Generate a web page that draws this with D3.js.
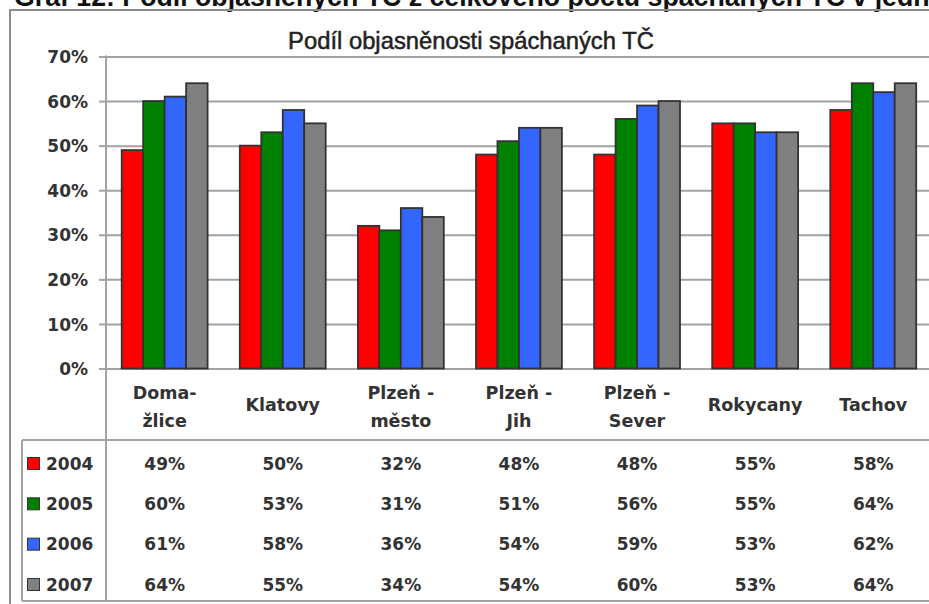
<!DOCTYPE html>
<html>
<head>
<meta charset="utf-8">
<script src="https://cdn.jsdelivr.net/npm/d3@7"></script>
<style>
  body { margin: 0; background: #fff; }
  svg { display: block; overflow: hidden; }
</style>
</head>
<body>
<svg id="chart" width="929" height="604"></svg>
<script>
// Data
const categories = ["Domažlice", "Klatovy", "Plzeň - město", "Plzeň - Jih", "Plzeň - Sever", "Rokycany", "Tachov"];
const categoryLines = [["Doma-", "žlice"], ["Klatovy"], ["Plzeň -", "město"], ["Plzeň -", "Jih"], ["Plzeň -", "Sever"], ["Rokycany"], ["Tachov"]];
const years = ["2004", "2005", "2006", "2007"];
const values2004 = [49, 50, 32, 48, 48, 55, 58];
const values2005 = [60, 53, 31, 51, 56, 55, 64];
const values2006 = [61, 58, 36, 54, 59, 53, 62];
const values2007 = [64, 55, 34, 54, 60, 53, 64];
const yTicks = [0, 10, 20, 30, 40, 50, 60, 70];
const yearColors = ["#ff0000", "#008000", "#3366ff", "#808080"];
const heading = "Graf 12: Podíl objasněných TČ z celkového počtu spáchaných TČ v jednotlivých okresech";
const chartTitle = "Podíl objasněnosti spáchaných TČ";

const series = [values2004, values2005, values2006, values2007];

const svg = d3.select("#chart");
const W = 929, H = 604;
const labelFont = "'DejaVu Sans', Verdana, sans-serif";
const textColor = "#333333";
const lineColor = "#a3a3a3";

// Scales
const axisX = 106;
const y = d3.scaleLinear().domain([0, 70]).range([368.5, 56.5]);
const x = d3.scaleBand().domain(categories).range([105.6, 932.3])
  .paddingInner(1.5 / 5.5).paddingOuter(0.75 / 5.5);
const xYear = d3.scaleBand().domain(years).range([0, x.bandwidth()]).padding(0);

// Page heading, partly cut off by the top edge
const head = svg.append("text")
  .attr("x", 14).attr("y", 6)
  .attr("font-family", "'Liberation Sans', Arial, sans-serif")
  .attr("font-weight", "bold")
  .attr("font-size", 20)
  .attr("fill", "#111")
  .text(heading.slice(0, 68));
{
  const w = head.node().getComputedTextLength();
  head.attr("font-size", 20 * (930 - 14) / w).text(heading);
}

// Chart frame
svg.append("rect")
  .attr("x", 10).attr("y", 10)
  .attr("width", W + 20).attr("height", H + 20)
  .attr("fill", "none").attr("stroke", "#8c8c8c").attr("stroke-width", 2);

// Chart title
const title = svg.append("text")
  .attr("x", 471).attr("y", 49)
  .attr("text-anchor", "middle")
  .attr("font-family", "'Liberation Sans', Arial, sans-serif")
  .attr("font-size", 20)
  .attr("fill", "#222")
  .attr("stroke", "#222").attr("stroke-width", 0.5)
  .text(chartTitle);
{
  const w = title.node().getComputedTextLength();
  title.attr("font-size", 20 * 366 / w);
}

// Gridlines
svg.append("g")
  .attr("transform", `translate(${axisX},0)`)
  .call(d3.axisLeft(y).tickValues(yTicks).tickSize(-(W - axisX + 10)).tickFormat(""))
  .call(g => g.select(".domain").remove())
  .call(g => g.selectAll(".tick line").attr("stroke", lineColor).attr("stroke-width", 2));

// Value axis with ticks and percent labels
svg.append("g")
  .attr("transform", `translate(${axisX},0)`)
  .call(d3.axisLeft(y).tickValues(yTicks).tickSize(7).tickPadding(11).tickFormat(d => d + "%"))
  .call(g => g.select(".domain").remove())
  .call(g => g.selectAll(".tick line").attr("stroke", lineColor).attr("stroke-width", 2))
  .call(g => g.selectAll(".tick text")
    .attr("font-family", labelFont).attr("font-weight", "bold")
    .attr("font-size", 17).attr("fill", textColor).attr("dy", "0.36em"));

// Vertical axis line running down through the data table
svg.append("line")
  .attr("x1", axisX).attr("x2", axisX)
  .attr("y1", y(70) - 1).attr("y2", 601)
  .attr("stroke", lineColor).attr("stroke-width", 2);

// Bars
const groups = svg.append("g").selectAll("g")
  .data(categories)
  .join("g")
  .attr("transform", d => `translate(${x(d)},0)`);

groups.selectAll("rect")
  .data((d, i) => years.map((yr, j) => ({ year: yr, value: series[j][i], color: yearColors[j] })))
  .join("rect")
  .attr("x", d => xYear(d.year))
  .attr("y", d => y(d.value))
  .attr("width", xYear.bandwidth())
  .attr("height", d => y(0) - y(d.value))
  .attr("fill", d => d.color)
  .attr("stroke", "#333")
  .attr("stroke-width", 1.8);

// Category labels
const catLabels = svg.append("g").selectAll("text")
  .data(categories)
  .join("text")
  .attr("text-anchor", "middle")
  .attr("font-family", labelFont).attr("font-weight", "bold")
  .attr("font-size", 17.5).attr("fill", textColor);

catLabels.each(function (d, i) {
  const lines = categoryLines[i];
  const cx = x(d) + x.bandwidth() / 2;
  const centers = lines.length === 2 ? [392, 420] : [404];
  d3.select(this).selectAll("tspan")
    .data(lines)
    .join("tspan")
    .attr("x", cx)
    .attr("y", (t, k) => centers[k] + 6.5)
    .text(t => t);
});

// Data table frame
const tableTop = 440, tableBottom = 601, tableLeft = 22;
svg.append("line").attr("x1", tableLeft).attr("x2", W + 10).attr("y1", tableTop).attr("y2", tableTop)
  .attr("stroke", lineColor).attr("stroke-width", 2);
svg.append("line").attr("x1", tableLeft).attr("x2", W + 10).attr("y1", tableBottom).attr("y2", tableBottom)
  .attr("stroke", lineColor).attr("stroke-width", 2);
svg.append("line").attr("x1", tableLeft).attr("x2", tableLeft).attr("y1", tableTop).attr("y2", tableBottom)
  .attr("stroke", lineColor).attr("stroke-width", 2);

const rowY = d3.scalePoint().domain(years).range([463.5, 584.5]);

// Legend keys and year labels
const rows = svg.append("g").selectAll("g")
  .data(years)
  .join("g")
  .attr("transform", d => `translate(0,${rowY(d)})`);

rows.append("rect")
  .attr("x", 27.5).attr("y", -6)
  .attr("width", 12).attr("height", 12)
  .attr("fill", (d, j) => yearColors[j])
  .attr("stroke", "#333").attr("stroke-width", 1);

rows.append("text")
  .attr("x", 46).attr("y", 6.3)
  .attr("font-family", labelFont).attr("font-weight", "bold")
  .attr("font-size", 17).attr("fill", textColor)
  .text(d => d);

// Table values
rows.each(function (yr, j) {
  d3.select(this).selectAll("text.val")
    .data(categories)
    .join("text")
    .attr("class", "val")
    .attr("x", d => x(d) + x.bandwidth() / 2)
    .attr("y", 6.3)
    .attr("text-anchor", "middle")
    .attr("font-family", labelFont).attr("font-weight", "bold")
    .attr("font-size", 17).attr("fill", textColor)
    .text((d, i) => series[j][i] + "%");
});
</script>
</body>
</html>
